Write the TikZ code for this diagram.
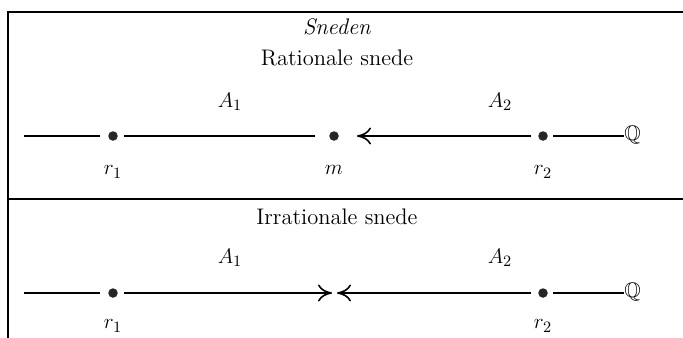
\documentclass[tikz,border=0pt]{standalone}
\usepackage{amssymb}
\usepackage{tikz}
\usetikzlibrary{arrows.meta, positioning, calc}
\tikzset{
  punt/.style={circle, fill=black!85, inner sep=0pt, minimum size=1.9mm},
  rand/.style={line width=0.9pt},
  lijn/.style={line width=0.9pt},
  pijl/.style={-{To[length=2.8mm, width=3.4mm]}, line width=0.9pt}
}

\begin{document}
\begin{tikzpicture}[x=0.2mm, y=-0.2mm, font=\fontsize{12.8}{15}\selectfont]
        \useasboundingbox (0,0) rectangle (683,338);

        % Frame
        \draw[rand] (683,12) -- (8,12) -- (8,338);
        \draw[rand] (8,199) -- (683,199);

        % Headings
        \node (kop) at (337,27) {\textit{Sneden}};
        \node (rat) at (337,58) {Rationale snede};
        \node (irr) at (337,217) {Irrationale snede};

        % Rationale snede
        \coordinate (a0) at (24,136);
        \node[punt] (ra1) at (113,136) {};
        \node[punt] (ram) at (334,136) {};
        \node[punt] (ra2) at (543,136) {};
        \node[anchor=west, inner sep=0pt] (raq) at (624,135) {\large$\mathbb{Q}$};
        \node (ral1) at (230,102) {$A_1$};
        \node (ral2) at (500,102) {$A_2$};
        \node (rar1) at (113,172) {$r_1$};
        \node (rarm) at (334,170) {$m$};
        \node (rar2) at (543,172) {$r_2$};

        \draw[lijn] (a0) -- ([xshift=-2.6mm]ra1.center);
        \draw[lijn] ([xshift=2.2mm]ra1.center) -- ([xshift=-3.8mm]ram.center);
        \draw[pijl] ([xshift=-2.4mm]ra2.center) -- ([xshift=4.6mm]ram.center);
        \draw[lijn] ([xshift=2mm]ra2.center) -- (ra2 -| raq.west);

        % Irrationale snede
        \coordinate (b0) at (24,293);
        \node[punt] (ir1) at (113,293) {};
        \coordinate (irm) at (334.5,293);
        \node[punt] (ir2) at (543,293) {};
        \node[anchor=west, inner sep=0pt] (irq) at (624,292) {\large$\mathbb{Q}$};
        \node (irl1) at (230,258) {$A_1$};
        \node (irl2) at (500,258) {$A_2$};
        \node (irr1) at (113,326) {$r_1$};
        \node (irr2) at (543,326) {$r_2$};

        \draw[lijn] (b0) -- ([xshift=-2.6mm]ir1.center);
        \draw[pijl] ([xshift=2.2mm]ir1.center) -- ([xshift=-0.5mm]irm);
        \draw[pijl] ([xshift=-2.4mm]ir2.center) -- ([xshift=0.5mm]irm);
        \draw[lijn] ([xshift=2mm]ir2.center) -- (ir2 -| irq.west);
    \end{tikzpicture}
\end{document}
